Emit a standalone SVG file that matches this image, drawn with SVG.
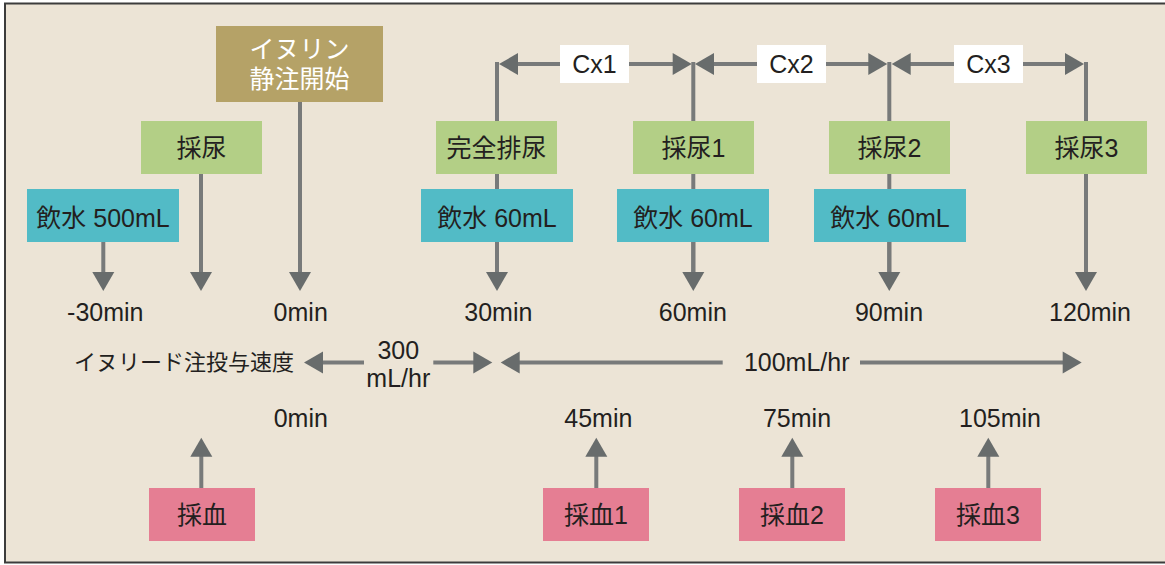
<svg xmlns="http://www.w3.org/2000/svg" width="1165" height="565" viewBox="0 0 1165 565">
<style>
.t{font-family:"Liberation Sans","Noto Sans CJK JP",sans-serif;font-size:25px;fill:#231f20;text-anchor:middle}
.s{font-size:22px}
.w{fill:#ffffff}
.g{fill:#b3cf86}
.b{fill:#52bbc6}
.p{fill:#e57e93}
.k{fill:#b5a267}
.l{stroke:#787a7a;stroke-width:4;fill:none}
.a{marker-end:url(#ah)}
.d{marker-start:url(#ahs);marker-end:url(#ah)}
</style>
<defs>
<marker id="ah" markerUnits="userSpaceOnUse" markerWidth="20" markerHeight="22" refX="1" refY="11" orient="auto" overflow="visible">
<path d="M0,0 L19,11 L0,22 Z" fill="#686c6c"/>
</marker>
<marker id="ahs" markerUnits="userSpaceOnUse" markerWidth="20" markerHeight="22" refX="1" refY="11" orient="auto-start-reverse" overflow="visible">
<path d="M0,0 L19,11 L0,22 Z" fill="#686c6c"/>
</marker>
</defs>
<rect x="0" y="0" width="1165" height="565" fill="#ffffff"/>
<rect x="5" y="3.5" width="1175" height="559" fill="#ece4d6" stroke="#3c3c3c" stroke-width="2"/>

<g id="connectors">
<line class="l" x1="497" y1="62" x2="497" y2="273.5"/>
<line class="l" x1="693.3" y1="62" x2="693.3" y2="273.5"/>
<line class="l" x1="889.3" y1="62" x2="889.3" y2="273.5"/>
<line class="l a" x1="497" y1="242" x2="497" y2="273"/>
<line class="l a" x1="693.3" y1="242" x2="693.3" y2="273"/>
<line class="l a" x1="889.3" y1="242" x2="889.3" y2="273"/>
<line class="l a" x1="1086" y1="62" x2="1086" y2="273"/>
<line class="l a" x1="201" y1="174" x2="201" y2="273"/>
<line class="l a" x1="300" y1="102" x2="300" y2="273"/>
<line class="l a" x1="103.3" y1="242" x2="103.3" y2="273"/>
<line class="l d" x1="517" y1="64" x2="673.7" y2="64"/>
<line class="l d" x1="713" y1="64" x2="869.3" y2="64"/>
<line class="l d" x1="909.7" y1="64" x2="1066" y2="64"/>
<line class="l a" x1="364" y1="362.5" x2="322" y2="362.5"/>
<line class="l a" x1="433.3" y1="362.5" x2="474.3" y2="362.5"/>
<line class="l a" x1="722.7" y1="362.5" x2="518.7" y2="362.5"/>
<line class="l a" x1="860" y1="362.5" x2="1063.7" y2="362.5"/>
<line class="l a" x1="201.3" y1="488" x2="201.3" y2="455.7"/>
<line class="l a" x1="596.3" y1="488" x2="596.3" y2="455.7"/>
<line class="l a" x1="792.3" y1="488" x2="792.3" y2="455.7"/>
<line class="l a" x1="988.3" y1="488" x2="988.3" y2="455.7"/>
</g>

<g id="cx1"><rect x="560" y="45" width="69" height="38" fill="#ffffff"/><text class="t" x="594.5" y="73">Cx1</text></g>
<g id="cx2"><rect x="757" y="45" width="69" height="38" fill="#ffffff"/><text class="t" x="791.5" y="73">Cx2</text></g>
<g id="cx3"><rect x="954" y="45" width="69" height="38" fill="#ffffff"/><text class="t" x="988.5" y="73">Cx3</text></g>

<g id="inulin-start"><rect class="k" x="216" y="26" width="167" height="76"/>
<text class="t w" x="299.5" y="58">イヌリン</text><text class="t w" x="299.5" y="88">静注開始</text></g>

<g id="saiyou0"><rect class="g" x="141" y="121" width="121" height="53"/><text class="t" x="201.5" y="157">採尿</text></g>
<g id="kanzen"><rect class="g" x="436" y="121" width="121" height="53"/><text class="t" x="496.5" y="157">完全排尿</text></g>
<g id="saiyou1"><rect class="g" x="633" y="121" width="121" height="53"/><text class="t" x="693.5" y="157">採尿1</text></g>
<g id="saiyou2"><rect class="g" x="829" y="121" width="121" height="53"/><text class="t" x="889.5" y="157">採尿2</text></g>
<g id="saiyou3"><rect class="g" x="1026" y="121" width="121" height="53"/><text class="t" x="1086.5" y="157">採尿3</text></g>

<g id="water500"><rect class="b" x="27" y="189" width="152" height="53"/><text class="t" x="103" y="227">飲水 500mL</text></g>
<g id="water60a"><rect class="b" x="421" y="189" width="152" height="53"/><text class="t" x="497" y="227">飲水 60mL</text></g>
<g id="water60b"><rect class="b" x="617" y="189" width="152" height="53"/><text class="t" x="693" y="227">飲水 60mL</text></g>
<g id="water60c"><rect class="b" x="814" y="189" width="152" height="53"/><text class="t" x="890" y="227">飲水 60mL</text></g>

<g id="times-top">
<text class="t" x="105.3" y="321">-30min</text>
<text class="t" x="300.7" y="321">0min</text>
<text class="t" x="498.3" y="321">30min</text>
<text class="t" x="692.8" y="321">60min</text>
<text class="t" x="889" y="321">90min</text>
<text class="t" x="1090" y="321">120min</text>
</g>

<g id="infusion">
<text class="t s" x="184" y="370">イヌリード注投与速度</text>
<text class="t" x="398.3" y="359">300</text>
<text class="t" x="398.3" y="386.5">mL/hr</text>
<text class="t" x="796.7" y="371">100mL/hr</text>
</g>

<g id="times-bottom">
<text class="t" x="300.8" y="427">0min</text>
<text class="t" x="598.3" y="427">45min</text>
<text class="t" x="797" y="427">75min</text>
<text class="t" x="1000" y="427">105min</text>
</g>

<g id="saiketsu0"><rect class="p" x="149" y="488" width="106" height="53"/><text class="t" x="202" y="524">採血</text></g>
<g id="saiketsu1"><rect class="p" x="543" y="488" width="106" height="53"/><text class="t" x="596" y="524">採血1</text></g>
<g id="saiketsu2"><rect class="p" x="739" y="488" width="106" height="53"/><text class="t" x="792" y="524">採血2</text></g>
<g id="saiketsu3"><rect class="p" x="935" y="488" width="106" height="53"/><text class="t" x="988" y="524">採血3</text></g>
</svg>
